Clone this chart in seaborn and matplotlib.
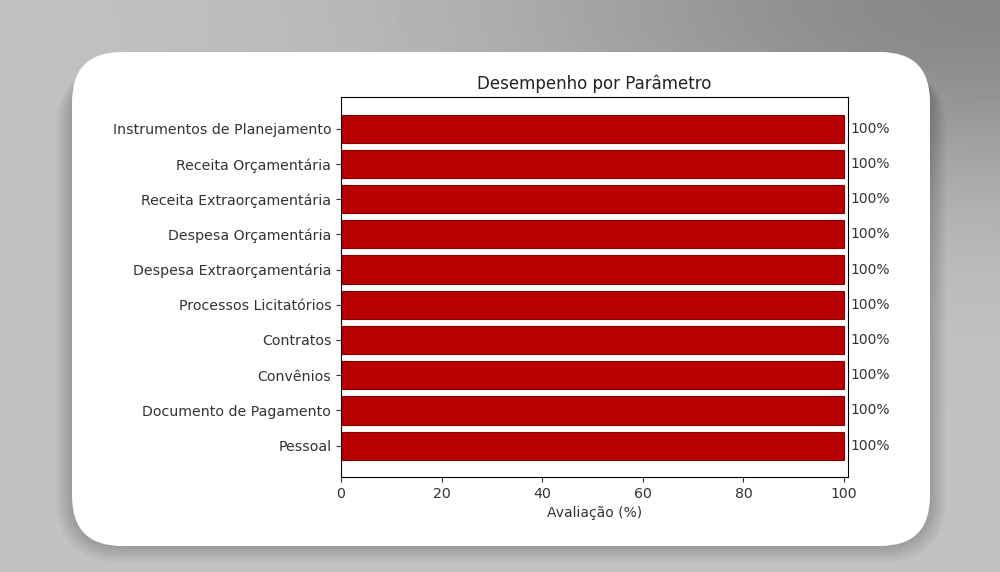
import numpy as np
import pandas as pd
import matplotlib
matplotlib.use('Agg')
import matplotlib.pyplot as plt
from matplotlib.patches import FancyBboxPatch
import seaborn as sns

# ─── Data ────────────────────────────────────────────────
parametros = [
    'Instrumentos de Planejamento',
    'Receita Orçamentária',
    'Receita Extraorçamentária',
    'Despesa Orçamentária',
    'Despesa Extraorçamentária',
    'Processos Licitatórios',
    'Contratos',
    'Convênios',
    'Documento de Pagamento',
    'Pessoal',
]
avaliacao = [100, 100, 100, 100, 100, 100, 100, 100, 100, 100]

df = pd.DataFrame({'Parametro': parametros, 'Avaliacao': avaliacao})

plt.rcParams['font.family'] = ['DejaVu Sans']

fig = plt.figure(figsize=(10, 5.72), dpi=100)

# ─── Background (gray backdrop + white rounded card) ─────
bg = fig.add_axes([0, 0, 1, 1], zorder=-1)
bg.set_xlim(0, 1000); bg.set_ylim(572, 0); bg.axis('off')
gx, gy = np.meshgrid(np.linspace(0, 1, 200), np.linspace(0, 1, 120))
dist = np.sqrt((1 - gx) ** 2 + (gy * 1.5) ** 2)
shade = 0.76 - 0.23 * np.exp(-(dist / 0.5) ** 2)
bg.imshow(shade, cmap='gray', vmin=0, vmax=1, extent=[0, 1000, 572, 0],
          aspect='auto', interpolation='bicubic')
# soft shadow, mostly under the card
for k in range(12):
    grow = 1.4 * (k + 1)
    bg.add_patch(FancyBboxPatch((72 - grow, 52 + 14),
                                858 + 2 * grow, 494 - 14 + grow * 1.0,
                                boxstyle=f'round,pad=0,rounding_size={50 + grow}',
                                fc='black', ec='none', alpha=0.016))
bg.add_patch(FancyBboxPatch((72, 52), 858, 494,
                            boxstyle='round,pad=0,rounding_size=50',
                            fc='white', ec='none'))

# ─── Chart ───────────────────────────────────────────────
ax = fig.add_axes([0.341, 0.166, 0.507, 0.664])
sns.barplot(data=df, x='Avaliacao', y='Parametro', orient='h',
            color='#b80000', edgecolor='#8a0000', linewidth=0.8,
            width=0.8, saturation=1, ax=ax)
n = len(parametros)
ax.set_ylim(n - 0.5 + 0.39, -0.5 - 0.39)
ax.set_xlim(0, 100.8)
ax.set_xticks([0, 20, 40, 60, 80, 100])
for i, v in enumerate(avaliacao):
    ax.text(v + 1.3, i, f'{v}%', va='center', ha='left', fontsize=10,
            color='#333333', clip_on=False)
ax.set_title('Desempenho por Parâmetro', fontsize=12, color='#222222', pad=6)
ax.set_xlabel('Avaliação (%)', fontsize=10, color='#333333')
ax.set_ylabel('')
ax.tick_params(labelsize=10.2, colors='#333333')
ax.set_facecolor('white')

fig.savefig('out.png', dpi=100)
